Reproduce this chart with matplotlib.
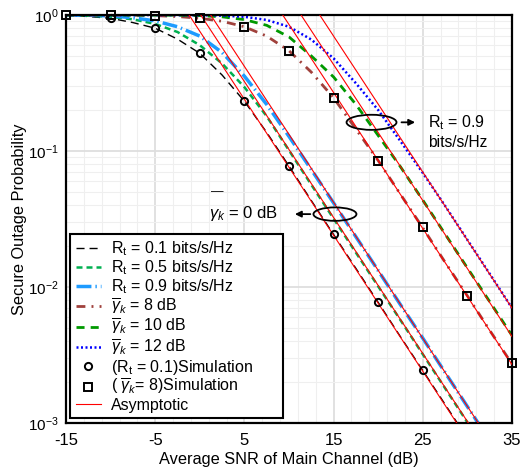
import numpy as np
import matplotlib
matplotlib.use("Agg")
import matplotlib.pyplot as plt
from matplotlib.patches import Ellipse
from matplotlib.ticker import FixedLocator, NullFormatter

plt.rcParams['font.family'] = ['Liberation Sans', 'DejaVu Sans']
plt.rcParams['mathtext.fontset'] = 'custom'
plt.rcParams['mathtext.rm'] = 'Liberation Sans'
plt.rcParams['mathtext.it'] = 'Liberation Sans:italic'
plt.rcParams['axes.unicode_minus'] = False

# ── data ───────────────────────────────────────────────────────────────────
snr_db = [-15, -12.5, -10, -7.5, -5, -2.5, 0, 2.5, 5, 7.5, 10, 12.5, 15,
          17.5, 20, 22.5, 25, 27.5, 30, 32.5, 35]

rt01_g0 = [1.0, 0.975, 0.946, 0.88, 0.80, 0.665, 0.523, 0.362, 0.232, 0.137,
           0.0775, 0.0432, 0.0243, 0.0137, 0.0077, 0.0043, 0.00243, 0.00137,
           0.00077, 0.00043, 0.00024]
rt05_g0 = [1.0, 0.99, 0.97, 0.93, 0.86, 0.75, 0.60, 0.44, 0.295, 0.18,
           0.101, 0.0565, 0.0318, 0.0179, 0.0101, 0.0057, 0.0032, 0.0018,
           0.00101, 0.00057, 0.00032]
rt09_g0 = [1.0, 0.997, 0.985, 0.955, 0.905, 0.82, 0.70, 0.53, 0.355, 0.22,
           0.128, 0.073, 0.0415, 0.0234, 0.0132, 0.0074, 0.0042, 0.00235,
           0.00132, 0.00074, 0.00042]
rt09_g8 = [1.0, 1.0, 0.999, 0.997, 0.99, 0.975, 0.946, 0.90, 0.82, 0.70,
           0.546, 0.38, 0.246, 0.145, 0.085, 0.048, 0.0272, 0.0152, 0.0086,
           0.0048, 0.00272]
rt09_g10 = [1.0, 1.0, 1.0, 0.999, 0.998, 0.997, 0.99, 0.97, 0.925, 0.84,
            0.69, 0.50, 0.35, 0.22, 0.13, 0.0765, 0.0435, 0.0245, 0.0138,
            0.0078, 0.0044]
rt09_g12 = [1.0, 1.0, 1.0, 1.0, 1.0, 0.999, 0.997, 0.99, 0.97, 0.92,
            0.82, 0.66, 0.48, 0.315, 0.20, 0.118, 0.069, 0.0395, 0.0222,
            0.0125, 0.0070]

sim_circ_x = [-10, -5, 0, 5, 10, 15, 20, 25]
sim_circ_y = [0.946, 0.80, 0.523, 0.232, 0.078, 0.0245, 0.0078, 0.00245]
sim_sq_x = [-15, -10, -5, 0, 5, 10, 15, 20, 25, 30, 35]
sim_sq_y = [1.0, 1.0, 0.99, 0.946, 0.82, 0.546, 0.246, 0.085, 0.0275,
            0.0086, 0.00275]

# asymptotes: straight lines, value at -15 dB and at 35 dB
asym_x = [-15, 35]
asym_vals = [
    [23.99, 2.40e-4],
    [32.4, 3.24e-4],
    [41.9, 4.19e-4],
    [269.0, 2.69e-3],
    [431.5, 4.32e-3],
    [699.8, 6.99e-3],
]

# ── figure ─────────────────────────────────────────────────────────────────
fig = plt.figure(figsize=(5.23, 4.71), dpi=100)
ax = fig.add_axes([0.1262, 0.1019, 0.8528, 0.8662])

ax.set_yscale("log")
ax.set_xlim(-15, 35)
ax.set_ylim(1e-3, 1)

ax.plot(snr_db, rt01_g0, color="black", lw=1.0, ls=(0, (5.8, 3.6)),
        label=r"R$_\mathrm{t}$ = 0.1 bits/s/Hz")
ax.plot(snr_db, rt05_g0, color="#00b050", lw=1.8, ls=(0, (2.4, 1.6)),
        label=r"R$_\mathrm{t}$ = 0.5 bits/s/Hz")
ax.plot(snr_db, rt09_g0, color="#1e9bff", lw=2.5, ls=(0, (4.3, 1.15, 0.4, 1.15)),
        label=r"R$_\mathrm{t}$ = 0.9 bits/s/Hz")
ax.plot(snr_db, rt09_g8, color="#a0413c", lw=2.0, ls=(0, (3.2, 2.2, 0.7, 2.2)),
        label=r"$\overline{\gamma}_k$ = 8 dB")
ax.plot(snr_db, rt09_g10, color="#009900", lw=2.0, ls=(0, (2.9, 2.2)),
        label=r"$\overline{\gamma}_k$ = 10 dB")
ax.plot(snr_db, rt09_g12, color="#0000ff", lw=1.8, ls=(0, (0.8, 1.0)),
        label=r"$\overline{\gamma}_k$ = 12 dB")

ax.plot(sim_circ_x, sim_circ_y, ls="none", marker="o", ms=5.2, mfc="none",
        mec="black", mew=1.4, clip_on=False, zorder=5,
        label=r"(R$_\mathrm{t}$ = 0.1)Simulation")
ax.plot(sim_sq_x, sim_sq_y, ls="none", marker="s", ms=5.5, mfc="none",
        mec="black", mew=1.4, clip_on=False, zorder=5,
        label=r"( $\overline{\gamma}_k$= 8)Simulation")

for i, vals in enumerate(asym_vals):
    ax.plot(asym_x, vals, color="red", lw=0.8, zorder=4,
            label="Asymptotic" if i == 0 else None)

# grid / ticks
ax.set_xticks([-15, -5, 5, 15, 25, 35])
ax.xaxis.set_minor_locator(FixedLocator(np.arange(-15, 36, 2)))
ax.grid(which="major", color="#dedede", lw=1.3)
ax.grid(which="minor", color="#efefef", lw=0.8)
ax.yaxis.set_minor_formatter(NullFormatter())
ax.tick_params(which="both", length=0)
ax.tick_params(axis="x", labelsize=12, pad=7)
ax.tick_params(axis="y", labelsize=11, pad=5)
for s in ax.spines.values():
    s.set_linewidth(1.6)

ax.set_xlabel("Average SNR of Main Channel (dB)", fontsize=11.8, labelpad=3)
ax.set_ylabel("Secure Outage Probability", fontsize=11.8, labelpad=1)

leg = ax.legend(loc="lower left", bbox_to_anchor=(0.009, 0.012, 0.4776, 0.45),
                mode="expand", borderaxespad=0, fontsize=11.5,
                labelspacing=0.02, handlelength=1.6, handletextpad=0.6,
                borderpad=0.35, fancybox=False, framealpha=1,
                edgecolor="black")
leg.get_frame().set_linewidth(1.5)

# annotations
e1 = Ellipse((0.603, 0.512), 0.0964, 0.033, transform=ax.transAxes,
             fill=False, ec="black", lw=1.3, zorder=6)
ax.add_patch(e1)
ax.annotate("", xy=(0.507, 0.512), xytext=(0.554, 0.512),
            xycoords="axes fraction",
            arrowprops=dict(arrowstyle="-|>", color="black", lw=1.3,
                            mutation_scale=9))
ax.text(0.475, 0.514, r"$\gamma_k$ = 0 dB", transform=ax.transAxes,
        ha="right", va="center", fontsize=12)
ax.text(0.340, 0.565, "\u2014", transform=ax.transAxes,
        ha="center", va="center", fontsize=9)

e2 = Ellipse((0.685, 0.737), 0.112, 0.037, transform=ax.transAxes,
             fill=False, ec="black", lw=1.3, zorder=6)
ax.add_patch(e2)
ax.annotate("", xy=(0.789, 0.737), xytext=(0.746, 0.737),
            xycoords="axes fraction",
            arrowprops=dict(arrowstyle="-|>", color="black", lw=1.3,
                            mutation_scale=9))
ax.text(0.811, 0.737, r"R$_\mathrm{t}$ = 0.9", transform=ax.transAxes,
        ha="left", va="center", fontsize=11.5)
ax.text(0.811, 0.688, "bits/s/Hz", transform=ax.transAxes,
        ha="left", va="center", fontsize=11.2)

fig.savefig("out.png", dpi=100)
